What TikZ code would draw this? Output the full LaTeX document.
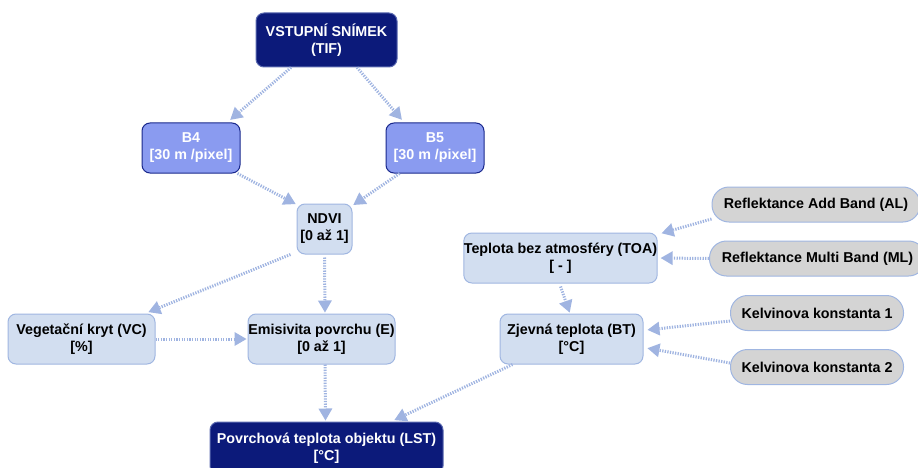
\documentclass[tikz,border=0pt]{standalone}
\usepackage{fontspec}
\setmainfont{Liberation Sans}
\usetikzlibrary{arrows.meta}

\definecolor{navy}{RGB}{12,26,122}
\definecolor{navyedge}{RGB}{90,105,175}
\definecolor{bandfill}{RGB}{138,155,240}
\definecolor{bandedge}{RGB}{25,40,140}
\definecolor{paleblue}{RGB}{210,222,240}
\definecolor{paleedge}{RGB}{160,182,225}
\definecolor{pillgray}{RGB}{212,212,212}
\definecolor{flowc}{RGB}{160,180,225}

\tikzset{
  box/.style={rounded corners=8pt, align=center, font=\bfseries\fontsize{14.3}{17}\selectfont,
              inner sep=0pt, line width=1pt},
  darkbox/.style={box, fill=navy, draw=navyedge, text=white},
  bandbox/.style={box, fill=bandfill, draw=bandedge, text=white},
  palebox/.style={box, fill=paleblue, draw=paleedge, text=black},
  pill/.style={box, rounded corners=17pt, fill=pillgray, draw=paleedge, text=black,
               minimum height=35pt},
  flow/.style={draw=flowc, line width=3pt, dash pattern=on 1.3pt off 1.3pt,
               -{Triangle[length=12pt,width=14pt,line width=0pt]}, shorten >=1pt}
}

\begin{document}
\begin{tikzpicture}[x=1pt,y=-1pt]
  \clip (0,0) rectangle (918,468);
  \useasboundingbox (0,0) rectangle (918,468);

  % source image and bands
  \node[darkbox, minimum width=141pt, minimum height=54pt] (vst) at (326.5,40) {VSTUPNÍ SNÍMEK\\(TIF)};
  \node[bandbox, minimum width=98pt, minimum height=50pt] (b4) at (191,148) {B4\\{}[30 m /pixel]};
  \node[bandbox, minimum width=98pt, minimum height=50pt] (b5) at (435,148) {B5\\{}[30 m /pixel]};

  % vegetation branch
  \node[palebox, minimum width=55pt, minimum height=50pt] (ndvi) at (324.5,229) {NDVI\\{}[0 až 1]};
  \node[palebox, minimum width=147pt, minimum height=50pt] (vc) at (81.5,339) {Vegetační kryt (VC)\\{}[\%]};
  \node[palebox, minimum width=147pt, minimum height=50pt] (em) at (321.5,339) {Emisivita povrchu (E)\\{}[0 až 1]};

  % result
  \node[darkbox, minimum width=233pt, minimum height=52pt] (lst) at (326.5,448) {Povrchová teplota objektu (LST)\\{}[°C]};

  % thermal branch
  \node[palebox, minimum width=187pt, minimum height=50pt] (toa) at (560.5,258) {Teplota bez atmosféry (TOA)\\{}[ - ]};
  \node[palebox, minimum width=143pt, minimum height=50pt] (bt) at (571.5,339) {Zjevná teplota (BT)\\{}[°C]};

  % constants
  \node[pill, minimum width=208pt] (al) at (816,204.5) {Reflektance Add Band (AL)};
  \node[pill, minimum width=216pt] (ml) at (817.5,258.5) {Reflektance Multi Band (ML)};
  \node[pill, minimum width=173pt] (k1) at (817,313) {Kelvinova konstanta 1};
  \node[pill, minimum width=173pt] (k2) at (817,367) {Kelvinova konstanta 2};

  % connectors
  \draw[flow] ([xshift=-35.5pt]vst.south) -- ([xshift=-11pt,yshift=2pt]b4.north east);
  \draw[flow] ([xshift=30.5pt]vst.south) -- ([xshift=17pt,yshift=2pt]b5.north west);
  \draw[flow] ([xshift=-3pt]b4.south east) -- ([yshift=-1pt]ndvi.north west);
  \draw[flow] ([xshift=14pt]b5.south west) -- ([yshift=-2pt]ndvi.north east);
  \draw[flow] ([xshift=-6pt]ndvi.south west) -- ([xshift=-8pt,yshift=1pt]vc.north east);
  \draw[flow] ([yshift=-3pt]ndvi.south) -- ([xshift=3.5pt]em.north);
  \draw[flow] (vc.east) -- (em.west);
  \draw[flow] ([xshift=3.5pt]em.south) -- ([xshift=-1pt]lst.north);
  \draw[flow] ([xshift=13pt]bt.south west) -- ([xshift=-50pt,yshift=1pt]lst.north east);
  \draw[flow] ([yshift=-14.5pt]al.west) -- ([xshift=3pt,yshift=-1pt]toa.north east);
  \draw[flow] (ml.west) -- ([xshift=2pt]toa.east);
  \draw[flow] ([yshift=-3pt]toa.south) -- ([xshift=-1.5pt]bt.north);
  \draw[flow] ([yshift=-8pt]k1.west) -- ([xshift=3pt,yshift=9pt]bt.east);
  \draw[flow] ([yshift=4pt]k2.west) -- ([xshift=3pt,yshift=-9pt]bt.east);
\end{tikzpicture}
\end{document}
